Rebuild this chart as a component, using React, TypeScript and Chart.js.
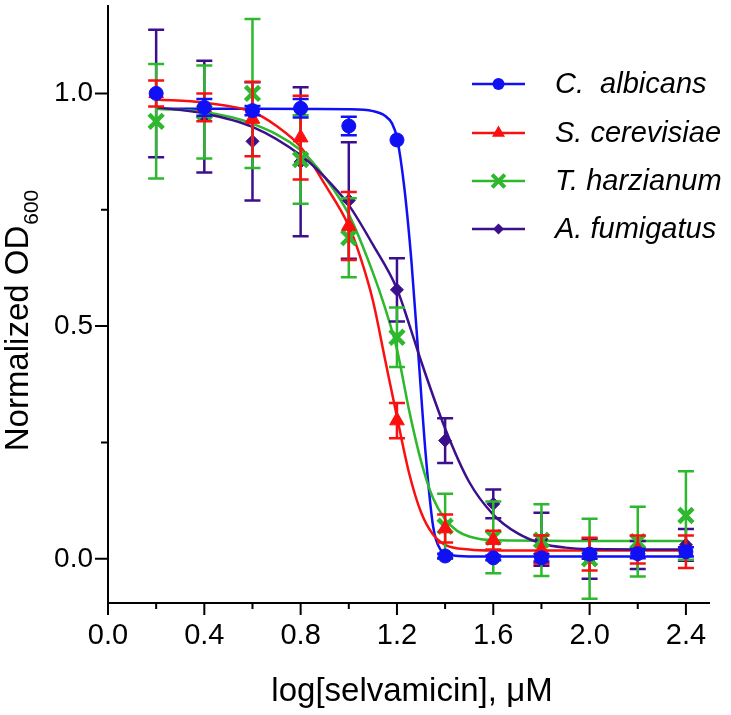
import React, { useEffect, useRef } from 'react';
import { Chart, registerables } from 'chart.js';

Chart.register(...registerables);

// ---- data ----
const doses = [0.2, 0.4, 0.6, 0.8, 1.0, 1.2, 1.4, 1.6, 1.8, 2.0, 2.2, 2.4];

const albicansMean = [1.0, 0.97, 0.963, 0.968, 0.93, 0.9, 0.006, 0.002, 0.002, 0.01, 0.011, 0.015];
const albicansErr = [0.0, 0.018, 0.01, 0.02, 0.02, 0.0, 0.005, 0.005, 0.008, 0.01, 0.01, 0.01];
const cerevisiaeMean = [1.0, 0.97, 0.945, 0.905, 0.715, 0.297, 0.065, 0.04, 0.02, 0.01, 0.02, 0.015];
const cerevisiaeErr = [0.028, 0.03, 0.08, 0.09, 0.073, 0.038, 0.03, 0.02, 0.03, 0.035, 0.03, 0.035];
const harzianumMean = [0.94, 0.96, 1.0, 0.858, 0.69, 0.476, 0.07, 0.046, 0.04, 0.0, 0.037, 0.093];
const harzianumErr = [0.123, 0.1, 0.16, 0.095, 0.085, 0.064, 0.07, 0.077, 0.077, 0.086, 0.075, 0.095];
const fumigatusMean = [1.0, 0.95, 0.897, 0.853, 0.77, 0.578, 0.254, 0.118, 0.042, 0.0, 0.008, 0.03];
const fumigatusErr = [0.137, 0.12, 0.127, 0.16, 0.125, 0.068, 0.048, 0.031, 0.057, 0.043, 0.03, 0.034];

// fitted curves
const albicansCurveX = [0.2, 0.6, 1.0, 1.1, 1.15, 1.18, 1.2, 1.23, 1.26, 1.29, 1.32, 1.35, 1.38, 1.42, 1.5, 2.4];
const albicansCurveY = [0.967, 0.967, 0.966, 0.962, 0.952, 0.935, 0.905, 0.8, 0.64, 0.43, 0.22, 0.07, 0.02, 0.008, 0.005, 0.005];
const cerevisiaeCurveX = [0.2, 0.4, 0.6, 0.7, 0.8, 0.9, 1.0, 1.05, 1.1, 1.15, 1.2, 1.25, 1.3, 1.35, 1.4, 1.5, 1.6, 2.4];
const cerevisiaeCurveY = [0.987, 0.98, 0.96, 0.93, 0.885, 0.805, 0.715, 0.645, 0.555, 0.43, 0.305, 0.185, 0.1, 0.052, 0.03, 0.02, 0.018, 0.018];
const harzianumCurveX = [0.2, 0.4, 0.6, 0.8, 0.9, 1.0, 1.1, 1.15, 1.2, 1.25, 1.3, 1.35, 1.4, 1.45, 1.5, 1.6, 2.4];
const harzianumCurveY = [0.967, 0.96, 0.935, 0.878, 0.82, 0.74, 0.615, 0.54, 0.45, 0.32, 0.21, 0.13, 0.085, 0.06, 0.048, 0.04, 0.038];
const fumigatusCurveX = [0.2, 0.4, 0.6, 0.8, 0.9, 1.0, 1.1, 1.2, 1.25, 1.3, 1.4, 1.5, 1.6, 1.7, 1.8, 1.9, 2.0, 2.4];
const fumigatusCurveY = [0.97, 0.957, 0.928, 0.867, 0.82, 0.76, 0.675, 0.58, 0.505, 0.425, 0.28, 0.165, 0.095, 0.055, 0.033, 0.024, 0.021, 0.02];

const xTickValues = [0, 0.2, 0.4, 0.6, 0.8, 1.0, 1.2, 1.4, 1.6, 1.8, 2.0, 2.2, 2.4];
const xTickLabels = ['0.0', '', '0.4', '', '0.8', '', '1.2', '', '1.6', '', '2.0', '', '2.4'];
const yTickValues = [0, 0.25, 0.5, 0.75, 1.0];
const yTickLabels = ['0.0', '', '0.5', '', '1.0'];

const xTitle = 'log[selvamicin], \u03BCM';
const yTitleMain = 'Normalized OD';
const yTitleSub = '600';

const FONT = '"Liberation Sans", Arial, Helvetica, sans-serif';

type Marker = 'circle' | 'triangle' | 'crossRot' | 'rectRot';
const series: { label: string; color: string; marker: Marker; radius: number; bw: number; mean: number[]; err: number[]; cx: number[]; cy: number[] }[] = [
  { label: 'C.  albicans', color: '#1010f5', marker: 'circle', radius: 7, bw: 1, mean: albicansMean, err: albicansErr, cx: albicansCurveX, cy: albicansCurveY },
  { label: 'S. cerevisiae', color: '#fa1010', marker: 'triangle', radius: 8.5, bw: 1, mean: cerevisiaeMean, err: cerevisiaeErr, cx: cerevisiaeCurveX, cy: cerevisiaeCurveY },
  { label: 'T. harzianum', color: '#2db82d', marker: 'crossRot', radius: 10, bw: 4.5, mean: harzianumMean, err: harzianumErr, cx: harzianumCurveX, cy: harzianumCurveY },
  { label: 'A. fumigatus', color: '#3c0f8c', marker: 'rectRot', radius: 6.5, bw: 1, mean: fumigatusMean, err: fumigatusErr, cx: fumigatusCurveX, cy: fumigatusCurveY },
];

function drawMarker(ctx: CanvasRenderingContext2D, type: Marker, x: number, y: number, r: number, color: string) {
  ctx.save();
  ctx.fillStyle = color;
  ctx.strokeStyle = color;
  ctx.beginPath();
  if (type === 'circle') {
    ctx.arc(x, y, r, 0, Math.PI * 2);
    ctx.fill();
  } else if (type === 'triangle') {
    for (let k = 0; k < 3; k++) {
      const a = (k * 2 * Math.PI) / 3;
      const px = x + Math.sin(a) * r;
      const py = y - Math.cos(a) * r;
      if (k === 0) ctx.moveTo(px, py);
      else ctx.lineTo(px, py);
    }
    ctx.closePath();
    ctx.fill();
  } else if (type === 'rectRot') {
    ctx.moveTo(x, y - r);
    ctx.lineTo(x + r, y);
    ctx.lineTo(x, y + r);
    ctx.lineTo(x - r, y);
    ctx.closePath();
    ctx.fill();
  } else {
    const d = r * 0.7071;
    ctx.lineWidth = 4;
    ctx.moveTo(x - d, y - d);
    ctx.lineTo(x + d, y + d);
    ctx.moveTo(x + d, y - d);
    ctx.lineTo(x - d, y + d);
    ctx.stroke();
  }
  ctx.restore();
}

const errorBarPlugin = {
  id: 'errorBars',
  beforeDatasetDraw(chart: any, args: any) {
    const ds = chart.data.datasets[args.index];
    if (!ds.errors) return;
    const ctx: CanvasRenderingContext2D = chart.ctx;
    const xs = chart.scales.x;
    const ys = chart.scales.y;
    ctx.save();
    ctx.strokeStyle = ds.borderColor;
    ctx.lineWidth = 2.5;
    ds.data.forEach((p: any, i: number) => {
      const e = ds.errors[i];
      if (!e) return;
      const px = xs.getPixelForValue(p.x);
      const t = ys.getPixelForValue(p.y + e);
      const b = ys.getPixelForValue(p.y - e);
      ctx.beginPath();
      ctx.moveTo(px, t);
      ctx.lineTo(px, b);
      ctx.moveTo(px - 8, t);
      ctx.lineTo(px + 8, t);
      ctx.moveTo(px - 8, b);
      ctx.lineTo(px + 8, b);
      ctx.stroke();
    });
    ctx.restore();
  },
};

const decorPlugin = {
  id: 'decor',
  afterDraw(chart: any) {
    const ctx: CanvasRenderingContext2D = chart.ctx;
    const { left, right, top, bottom } = chart.chartArea;
    const xs = chart.scales.x;
    const ys = chart.scales.y;
    ctx.save();
    ctx.strokeStyle = '#000';
    ctx.lineWidth = 2;
    ctx.lineCap = 'butt';
    ctx.beginPath();
    ctx.moveTo(left, top);
    ctx.lineTo(left, bottom + 1);
    ctx.moveTo(left - 1, bottom);
    ctx.lineTo(right, bottom);
    yTickValues.forEach((v, i) => {
      const py = ys.getPixelForValue(v);
      const len = yTickLabels[i] ? 13 : 7;
      ctx.moveTo(left, py);
      ctx.lineTo(left - len, py);
    });
    xTickValues.forEach((v, i) => {
      const px = xs.getPixelForValue(v);
      const len = xTickLabels[i] ? 12 : 6;
      ctx.moveTo(px, bottom);
      ctx.lineTo(px, bottom + len);
    });
    ctx.stroke();

    // x title
    ctx.fillStyle = '#000';
    ctx.font = `33px ${FONT}`;
    ctx.textAlign = 'center';
    ctx.textBaseline = 'alphabetic';
    ctx.fillText(xTitle, (left + right) / 2 + 3, 701);

    // y title with subscript
    ctx.save();
    ctx.font = `33px ${FONT}`;
    const w1 = ctx.measureText(yTitleMain).width;
    ctx.font = `21px ${FONT}`;
    const w2 = ctx.measureText(yTitleSub).width;
    const W = w1 + w2;
    ctx.translate(28, 321);
    ctx.rotate(-Math.PI / 2);
    ctx.textAlign = 'left';
    ctx.font = `33px ${FONT}`;
    ctx.fillText(yTitleMain, -W / 2, 0);
    ctx.font = `21px ${FONT}`;
    ctx.fillText(yTitleSub, -W / 2 + w1 + 1, 10);
    ctx.restore();

    // legend
    const rows = [84, 133, 181, 229];
    series.forEach((s, i) => {
      const y = rows[i];
      ctx.strokeStyle = s.color;
      ctx.lineWidth = 2.5;
      ctx.beginPath();
      ctx.moveTo(472, y);
      ctx.lineTo(525, y);
      ctx.stroke();
      drawMarker(ctx, s.marker, 498.5, y, s.marker === 'crossRot' ? 9 : s.radius - 1, s.color);
      ctx.fillStyle = '#000';
      ctx.font = `italic 29px ${FONT}`;
      ctx.textAlign = 'left';
      ctx.textBaseline = 'middle';
      ctx.fillText(s.label, 555, y + 1);
    });
    ctx.restore();
  },
};

export default function App() {
  const ref = useRef<HTMLCanvasElement | null>(null);
  useEffect(() => {
    if (!ref.current) return;
    const curveSets = series.map((s, i) => ({
      type: 'line' as const,
      label: s.label + ' fit',
      data: s.cx.map((x, k) => ({ x, y: s.cy[k] })),
      borderColor: s.color,
      borderWidth: 2.5,
      pointRadius: 0,
      showLine: true,
      fill: false,
      cubicInterpolationMode: 'monotone' as const,
      order: 10 + (3 - i),
    }));
    const pointSets = series.map((s, i) => ({
      type: 'line' as const,
      label: s.label,
      data: doses.map((x, k) => ({ x, y: s.mean[k] })),
      errors: s.err,
      borderColor: s.color,
      backgroundColor: s.color,
      pointStyle: s.marker,
      pointRadius: s.radius,
      pointBorderWidth: s.bw,
      pointBorderColor: s.color,
      pointBackgroundColor: s.color,
      showLine: false,
      order: i,
    }));
    const chart = new Chart(ref.current, {
      type: 'line',
      data: { datasets: [...curveSets, ...pointSets] as any },
      plugins: [errorBarPlugin, decorPlugin],
      options: {
        animation: false,
        responsive: false,
        layout: { autoPadding: false, padding: { top: 5, right: 21, left: 0, bottom: 0 } },
        plugins: { legend: { display: false }, tooltip: { enabled: false } },
        scales: {
          x: {
            type: 'linear',
            min: 0,
            max: 2.5,
            afterFit: (s: any) => { s.height = 112; s.paddingLeft = 0; s.paddingRight = 0; },
            afterBuildTicks: (s: any) => { s.ticks = xTickValues.map((v) => ({ value: v })); },
            grid: { display: true, drawOnChartArea: false, drawTicks: true, tickLength: 12, color: 'rgba(0,0,0,0)' },
            border: { display: false },
            ticks: {
              autoSkip: false,
              maxRotation: 0,
              padding: 4,
              color: '#000',
              font: { family: FONT, size: 29 },
              callback: (_v: any, i: number) => xTickLabels[i],
            },
          },
          y: {
            type: 'linear',
            min: -0.095,
            max: 1.19,
            afterFit: (s: any) => { s.width = 108; s.paddingTop = 0; s.paddingBottom = 0; },
            afterBuildTicks: (s: any) => { s.ticks = yTickValues.map((v) => ({ value: v })); },
            grid: { display: true, drawOnChartArea: false, drawTicks: true, tickLength: 13, color: 'rgba(0,0,0,0)' },
            border: { display: false },
            ticks: {
              autoSkip: false,
              padding: 2,
              color: '#000',
              font: { family: FONT, size: 28 },
              callback: (_v: any, i: number) => yTickLabels[i],
            },
          },
        },
      } as any,
    });
    return () => chart.destroy();
  }, []);
  return (
    <div style={{ position: 'absolute', left: 0, top: 0, width: 731, height: 715, background: '#fff' }}>
      <canvas ref={ref} width={731} height={715} style={{ display: 'block' }} />
    </div>
  );
}
